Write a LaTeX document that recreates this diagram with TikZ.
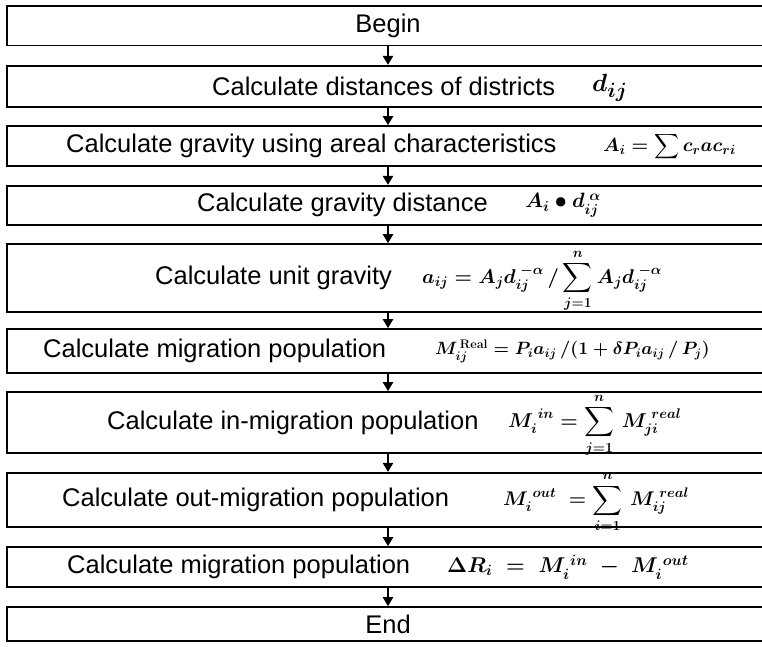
\RequirePackage{fix-cm}
\documentclass[tikz,border=0pt]{standalone}
\usepackage{amsmath}
\usepackage[no-math]{fontspec}
\setmainfont{Liberation Sans}
\usetikzlibrary{arrows.meta}
\begin{document}
\begin{tikzpicture}[x=1pt,y=-1pt,
  box/.style={draw,line width=1.6pt,minimum width=762pt,inner sep=0pt,anchor=center},
  lbl/.style={inner sep=0pt,anchor=west,font=\fontsize{25.5}{30}\selectfont},
  fml/.style={inner sep=0pt,anchor=west,font=\fontsize{20.74}{25}\selectfont\boldmath},
  arr/.style={line width=2.2pt,-{Triangle[length=9pt,width=10pt]}}]
\useasboundingbox (0,0) rectangle (762,646);
\node[box,minimum height=39.5pt] (b1) at (388,25.75) {};
\node[box,minimum height=41pt] (b2) at (388,86.2) {};
\node[box,minimum height=39.7pt] (b3) at (388,145.85) {};
\node[box,minimum height=39.3pt] (b4) at (388,205.35) {};
\node[box,minimum height=67.7pt] (b5) at (388,277.85) {};
\node[box,minimum height=44pt] (b6) at (388,351) {};
\node[box,minimum height=61pt] (b7) at (388,422.5) {};
\node[box,minimum height=54.3pt] (b8) at (388,499.85) {};
\node[box,minimum height=40pt] (b9) at (388,567) {};
\node[box,minimum height=34pt] (b10) at (388,624) {};
% labels
\node[lbl,anchor=center] (t1) at (388,25.75) {Begin};
\node[lbl] (t2) at (212,86.2) {Calculate distances of districts};
\node[lbl] (t3) at (66,145.85) {Calculate gravity using areal characteristics};
\node[lbl] (t4) at (197,205.35) {Calculate gravity distance};
\node[lbl] (t5) at (155,277.85) {Calculate unit gravity};
\node[lbl] (t6) at (43,351) {Calculate migration population};
\node[lbl] (t7) at (107,422.5) {Calculate in-migration population};
\node[lbl] (t8) at (62,499.85) {Calculate out-migration population};
\node[lbl] (t9) at (67,567) {Calculate migration population};
\node[lbl,anchor=center] (t10) at (388,624) {End};
% formulas
\node[fml,font=\fontsize{24.88}{29}\selectfont\boldmath] (f2) at (592,88) {$d_{ij}$};
\node[fml,font=\fontsize{19}{24}\selectfont\boldmath] (f3) at (603,147) {$\displaystyle A_i=\sum c_r a c_{ri}$};
\node[fml] (f4) at (525,205.35) {$A_i\bullet d_{ij}^{\;\alpha}$};
\node[fml,font=\fontsize{19.9}{24}\selectfont\boldmath] (f5) at (422,281) {$\displaystyle a_{ij}=A_j d_{ij}^{\;-\alpha}\,/\sum_{j=1}^{n}A_j d_{ij}^{\;-\alpha}$};
\node[fml,font=\fontsize{17.8}{22}\selectfont\boldmath] (f6) at (435,351) {$M_{ij}^{\,\mathrm{Real}}=P_i a_{ij}\,/(1+\delta P_i a_{ij}\,/\,P_j)$};
\node[fml,font=\fontsize{20}{24}\selectfont\boldmath] (f7) at (508,425) {$\displaystyle M_i^{\;in}=\sum_{j=1}^{n}\,M_{ji}^{\;real}$};
\node[fml,font=\fontsize{19.8}{24}\selectfont\boldmath] (f8) at (503,502) {$\displaystyle M_i^{\;out}\;=\sum_{i=1}^{n}\,M_{ij}^{\;real}$};
\node[fml,font=\fontsize{21.4}{25}\selectfont\boldmath] (f9) at (447,567) {$\Delta R_i\;=\;M_i^{\;in}\;-\;M_i^{\;out}$};
% arrows
\draw[arr] (b1.south) -- (b2.north);
\draw[arr] (b2.south) -- (b3.north);
\draw[arr] (b3.south) -- (b4.north);
\draw[arr] (b4.south) -- (b5.north);
\draw[arr] (b5.south) -- (b6.north);
\draw[arr] (b6.south) -- (b7.north);
\draw[arr] (b7.south) -- (b8.north);
\draw[arr] (b8.south) -- (b9.north);
\draw[arr] (b9.south) -- (b10.north);
\end{tikzpicture}
\end{document}
